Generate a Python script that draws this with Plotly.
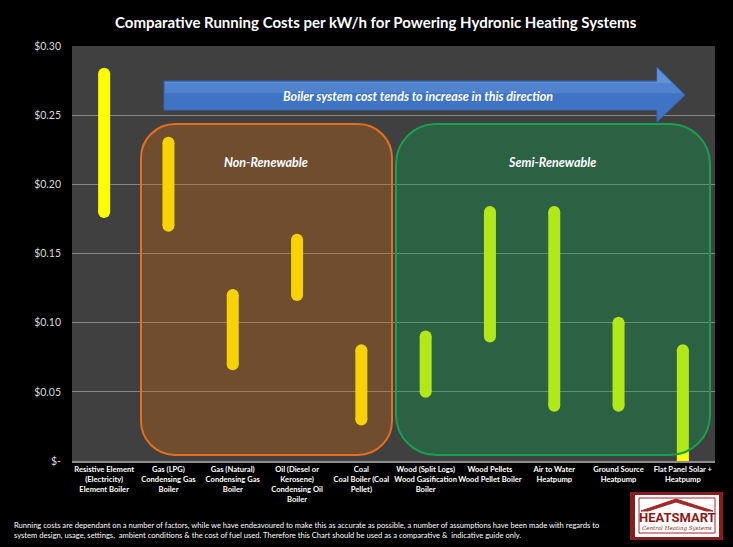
import plotly.graph_objects as go

# ---------------- data ----------------
categories = [
    "Resistive Element<br>(Electricity)<br>Element Boiler",
    "Gas (LPG)<br>Condensing Gas<br>Boiler",
    "Gas (Natural)<br>Condensing Gas<br>Boiler",
    "Oil (Diesel or<br>Kerosene)<br>Condensing Oil<br>Boiler",
    "Coal<br>Coal Boiler (Coal<br>Pellet)",
    "Wood (Split Logs)<br>Wood Gasification<br>Boiler",
    "Wood Pellets<br>Wood Pellet Boiler",
    "Air to Water<br>Heatpump",
    "Ground Source<br>Heatpump",
    "Flat Panel Solar +<br>Heatpump",
]
cost_low = [0.18, 0.17, 0.07, 0.12, 0.03, 0.05, 0.09, 0.04, 0.04, 0.00]
cost_high = [0.28, 0.23, 0.12, 0.16, 0.08, 0.09, 0.18, 0.18, 0.10, 0.08]
tick_vals = [0, 0.05, 0.10, 0.15, 0.20, 0.25, 0.30]
tick_text = ["$-", "$0.05", "$0.10", "$0.15", "$0.20", "$0.25", "$0.30"]

title_text = "Comparative Running Costs per kW/h for Powering Hydronic Heating Systems"
arrow_text = "Boiler system cost tends to increase in this direction"
group_labels = ["Non-Renewable", "Semi-Renewable"]
footnote = ("Running costs are dependant on a number of factors, while we have endeavoured to make this as accurate as possible, a number of assumptions have been made with regards to<br>"
            "system design, usage, settings,  ambient conditions & the cost of fuel used. Therefore this Chart should be used as a comparative &  indicative guide only.")

# ---------------- geometry helpers (pixel -> paper) ----------------
WIDTH, HEIGHT = 733, 547
L, R, T, B = 72, 715, 46, 461
PW, PH = R - L, B - T


def px(x):
    return (x - L) / PW


def py(y):
    return (B - y) / PH


def pt(x, y):
    return f"{px(x):.5f},{py(y):.5f}"


def rrect(x0, y0, x1, y1, r):
    k = 0.5523 * r
    return (f"M{pt(x0 + r, y0)} L{pt(x1 - r, y0)} "
            f"C{pt(x1 - r + k, y0)} {pt(x1, y0 + r - k)} {pt(x1, y0 + r)} "
            f"L{pt(x1, y1 - r)} "
            f"C{pt(x1, y1 - r + k)} {pt(x1 - r + k, y1)} {pt(x1 - r, y1)} "
            f"L{pt(x0 + r, y1)} "
            f"C{pt(x0 + r - k, y1)} {pt(x0, y1 - r + k)} {pt(x0, y1 - r)} "
            f"L{pt(x0, y0 + r)} "
            f"C{pt(x0, y0 + r - k)} {pt(x0 + r - k, y0)} {pt(x0 + r, y0)} Z")


def poly(points):
    return "M" + " L".join(pt(x, y) for x, y in points) + " Z"


# ---------------- traces ----------------
line_x, line_y = [], []
for c, lo, hi in zip(categories, cost_low, cost_high):
    line_x += [c, c, None]
    line_y += [lo, hi, None]

fig = go.Figure()
fig.add_trace(go.Scatter(
    x=line_x, y=line_y, mode="lines",
    line=dict(color="#FFFF00", width=12),
    hoverinfo="skip", showlegend=False,
))
fig.add_trace(go.Scatter(
    x=categories + categories, y=cost_low + cost_high, mode="markers",
    marker=dict(color="#FFFF00", size=12, line=dict(width=0)),
    hoverinfo="skip", showlegend=False,
))

bold_labels = ["<br>".join(f"<b>{part}</b>" for part in c.split("<br>")) for c in categories]

# ---------------- shapes ----------------
shapes = []
# Non-renewable box
shapes.append(dict(type="path", xref="paper", yref="paper", layer="above",
                   path=rrect(141, 124, 392, 455, 34),
                   fillcolor="rgba(228,108,10,0.30)",
                   line=dict(color="#E2701E", width=2)))
# Semi-renewable box
shapes.append(dict(type="path", xref="paper", yref="paper", layer="above",
                   path=rrect(396, 124, 710, 455, 40),
                   fillcolor="rgba(0,176,80,0.30)",
                   line=dict(color="#17A04E", width=2)))
# Arrow
arrow_pts = [(164, 81), (657, 81), (657, 67), (685, 95), (657, 122), (657, 110), (164, 110)]
shapes.append(dict(type="path", xref="paper", yref="paper", layer="above",
                   path=poly(arrow_pts), fillcolor="#3F74C4",
                   line=dict(color="#3665AE", width=1)))
shapes.append(dict(type="path", xref="paper", yref="paper", layer="above",
                   path=poly([(165, 82), (657, 82), (657, 68.5), (672, 83), (165, 83)]),
                   fillcolor="rgba(140,185,240,0.45)", line=dict(width=0)))
shapes.append(dict(type="path", xref="paper", yref="paper", layer="above",
                   path=poly([(165, 83), (657, 83), (672, 83), (682, 93), (165, 93)]),
                   fillcolor="rgba(110,160,225,0.35)", line=dict(width=0)))
# Logo
shapes.append(dict(type="rect", xref="paper", yref="paper", layer="above",
                   x0=px(630), x1=px(723), y0=py(540), y1=py(492),
                   fillcolor="#8B1C1C", line=dict(width=0)))
shapes.append(dict(type="rect", xref="paper", yref="paper", layer="above",
                   x0=px(635), x1=px(719), y0=py(537), y1=py(495),
                   fillcolor="#FFFFFF", line=dict(width=0)))
shapes.append(dict(type="rect", xref="paper", yref="paper", layer="above",
                   x0=px(639), x1=px(715), y0=py(533), y1=py(498),
                   fillcolor="rgba(0,0,0,0)", line=dict(color="#A0282A", width=1)))
shapes.append(dict(type="path", xref="paper", yref="paper", layer="above",
                   path=poly([(641, 511), (676, 499), (713, 511), (706, 511), (676, 502), (648, 511)]),
                   fillcolor="#A0282A", line=dict(color="#A0282A", width=1)))

# ---------------- annotations ----------------
ann = []
ann.append(dict(text=f"<b>{title_text}</b>", xref="paper", yref="paper",
                x=px(376), y=py(22), showarrow=False, xanchor="center", yanchor="middle",
                font=dict(family="Lato", size=15, color="#FFFFFF")))
ann.append(dict(text=f"<b><i>{arrow_text}</i></b>", xref="paper", yref="paper",
                x=px(418), y=py(96), showarrow=False, xanchor="center", yanchor="middle",
                font=dict(family="Lato", size=12.5, color="#FFFFFF")))
ann.append(dict(text=f"<b><i>{group_labels[0]}</i></b>", xref="paper", yref="paper",
                x=px(266), y=py(162), showarrow=False, xanchor="center", yanchor="middle",
                font=dict(family="Lato", size=12.5, color="#FFFFFF")))
ann.append(dict(text=f"<b><i>{group_labels[1]}</i></b>", xref="paper", yref="paper",
                x=px(552), y=py(162), showarrow=False, xanchor="center", yanchor="middle",
                font=dict(family="Lato", size=12.5, color="#FFFFFF")))
ann.append(dict(text=footnote, xref="paper", yref="paper",
                x=px(12), y=py(530), showarrow=False, xanchor="left", yanchor="middle",
                align="left",
                font=dict(family="Lato", size=7.6, color="#FFFFFF")))
ann.append(dict(text="<b>HEATSMART</b>", xref="paper", yref="paper",
                x=px(677), y=py(517), showarrow=False, xanchor="center", yanchor="middle",
                font=dict(family="Liberation Sans Narrow, Roboto", size=13, color="#8B1C1C")))
ann.append(dict(text="<i>Central Heating Systems</i>", xref="paper", yref="paper",
                x=px(677), y=py(528.5), showarrow=False, xanchor="center", yanchor="middle",
                font=dict(family="DejaVu Serif", size=5.5, color="#8B1C1C")))

fig.update_layout(
    width=WIDTH, height=HEIGHT,
    margin=dict(l=L, r=WIDTH - R, t=T, b=HEIGHT - B, pad=0),
    paper_bgcolor="#000000", plot_bgcolor="#404040",
    font=dict(family="Lato", color="#FFFFFF"),
    shapes=shapes, annotations=ann, showlegend=False,
    xaxis=dict(type="category", categoryorder="array", categoryarray=categories,
               tickvals=categories, ticktext=bold_labels,
               range=[-0.5, len(categories) - 0.5], showgrid=False,
               showline=True, linecolor="#8C8C8C", linewidth=2,
               ticks="", tickfont=dict(family="Lato", size=7.6, color="#FFFFFF"),
               tickangle=0, fixedrange=True),
    yaxis=dict(range=[0, 0.30], tickvals=tick_vals, ticktext=tick_text,
               showgrid=True, gridcolor="#858585", gridwidth=1,
               zeroline=False, showline=False, ticks="",
               ticklabelstandoff=10,
               tickfont=dict(family="Lato", size=10.5, color="#D9D9D9"),
               fixedrange=True),
)

fig.write_html(
    "out.html",
    config={"displayModeBar": False},
    post_script="document.body.style.margin='0px';document.body.style.background='#000000';",
)
